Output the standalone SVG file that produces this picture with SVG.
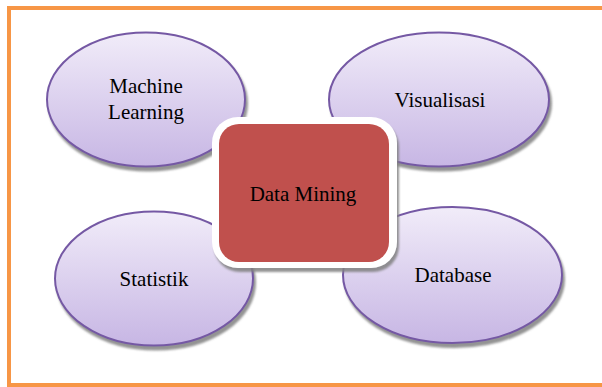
<svg xmlns="http://www.w3.org/2000/svg" width="602" height="387" viewBox="0 0 602 387">
<defs>
<linearGradient id="lav" x1="0" y1="0" x2="0" y2="1">
<stop offset="0" stop-color="#F1ECF9"/>
<stop offset="1" stop-color="#C7B6E4"/>
</linearGradient>
<filter id="sh" x="-10%" y="-10%" width="130%" height="130%">
<feDropShadow dx="2" dy="4" stdDeviation="1" flood-color="#808080" flood-opacity="0.85"/>
</filter>
</defs>
<style>
.oval{fill:url(#lav);stroke:#7559A4;stroke-width:2;filter:url(#sh)}
.lbl{font-family:"Liberation Serif","Times New Roman",serif;font-size:21px;fill:#000;text-anchor:middle}
</style>
<rect x="0" y="0" width="602" height="387" fill="#fff"/>
<rect x="9" y="8" width="600" height="377" fill="none" stroke="#F79646" stroke-width="4"/>
<g id="connectors"/>
<g id="machine-learning">
<ellipse class="oval" cx="146" cy="99.5" rx="99" ry="67"/>
<text class="lbl" x="146" y="93">Machine</text>
<text class="lbl" x="146" y="119">Learning</text>
</g>
<g id="visualisasi">
<ellipse class="oval" cx="439" cy="99.5" rx="110" ry="67"/>
<text class="lbl" x="440" y="107">Visualisasi</text>
</g>
<g id="statistik">
<ellipse class="oval" cx="154" cy="278.5" rx="99" ry="67"/>
<text class="lbl" x="154" y="286">Statistik</text>
</g>
<g id="database">
<ellipse class="oval" cx="452.5" cy="275" rx="109.5" ry="68"/>
<text class="lbl" x="453" y="282">Database</text>
</g>
<g id="data-mining">
<rect x="212" y="117" width="185" height="151" rx="26" fill="#fff" filter="url(#sh)"/>
<rect x="219" y="124" width="170" height="138" rx="20" fill="#C0504D"/>
<text class="lbl" x="303" y="201">Data Mining</text>
</g>
</svg>
